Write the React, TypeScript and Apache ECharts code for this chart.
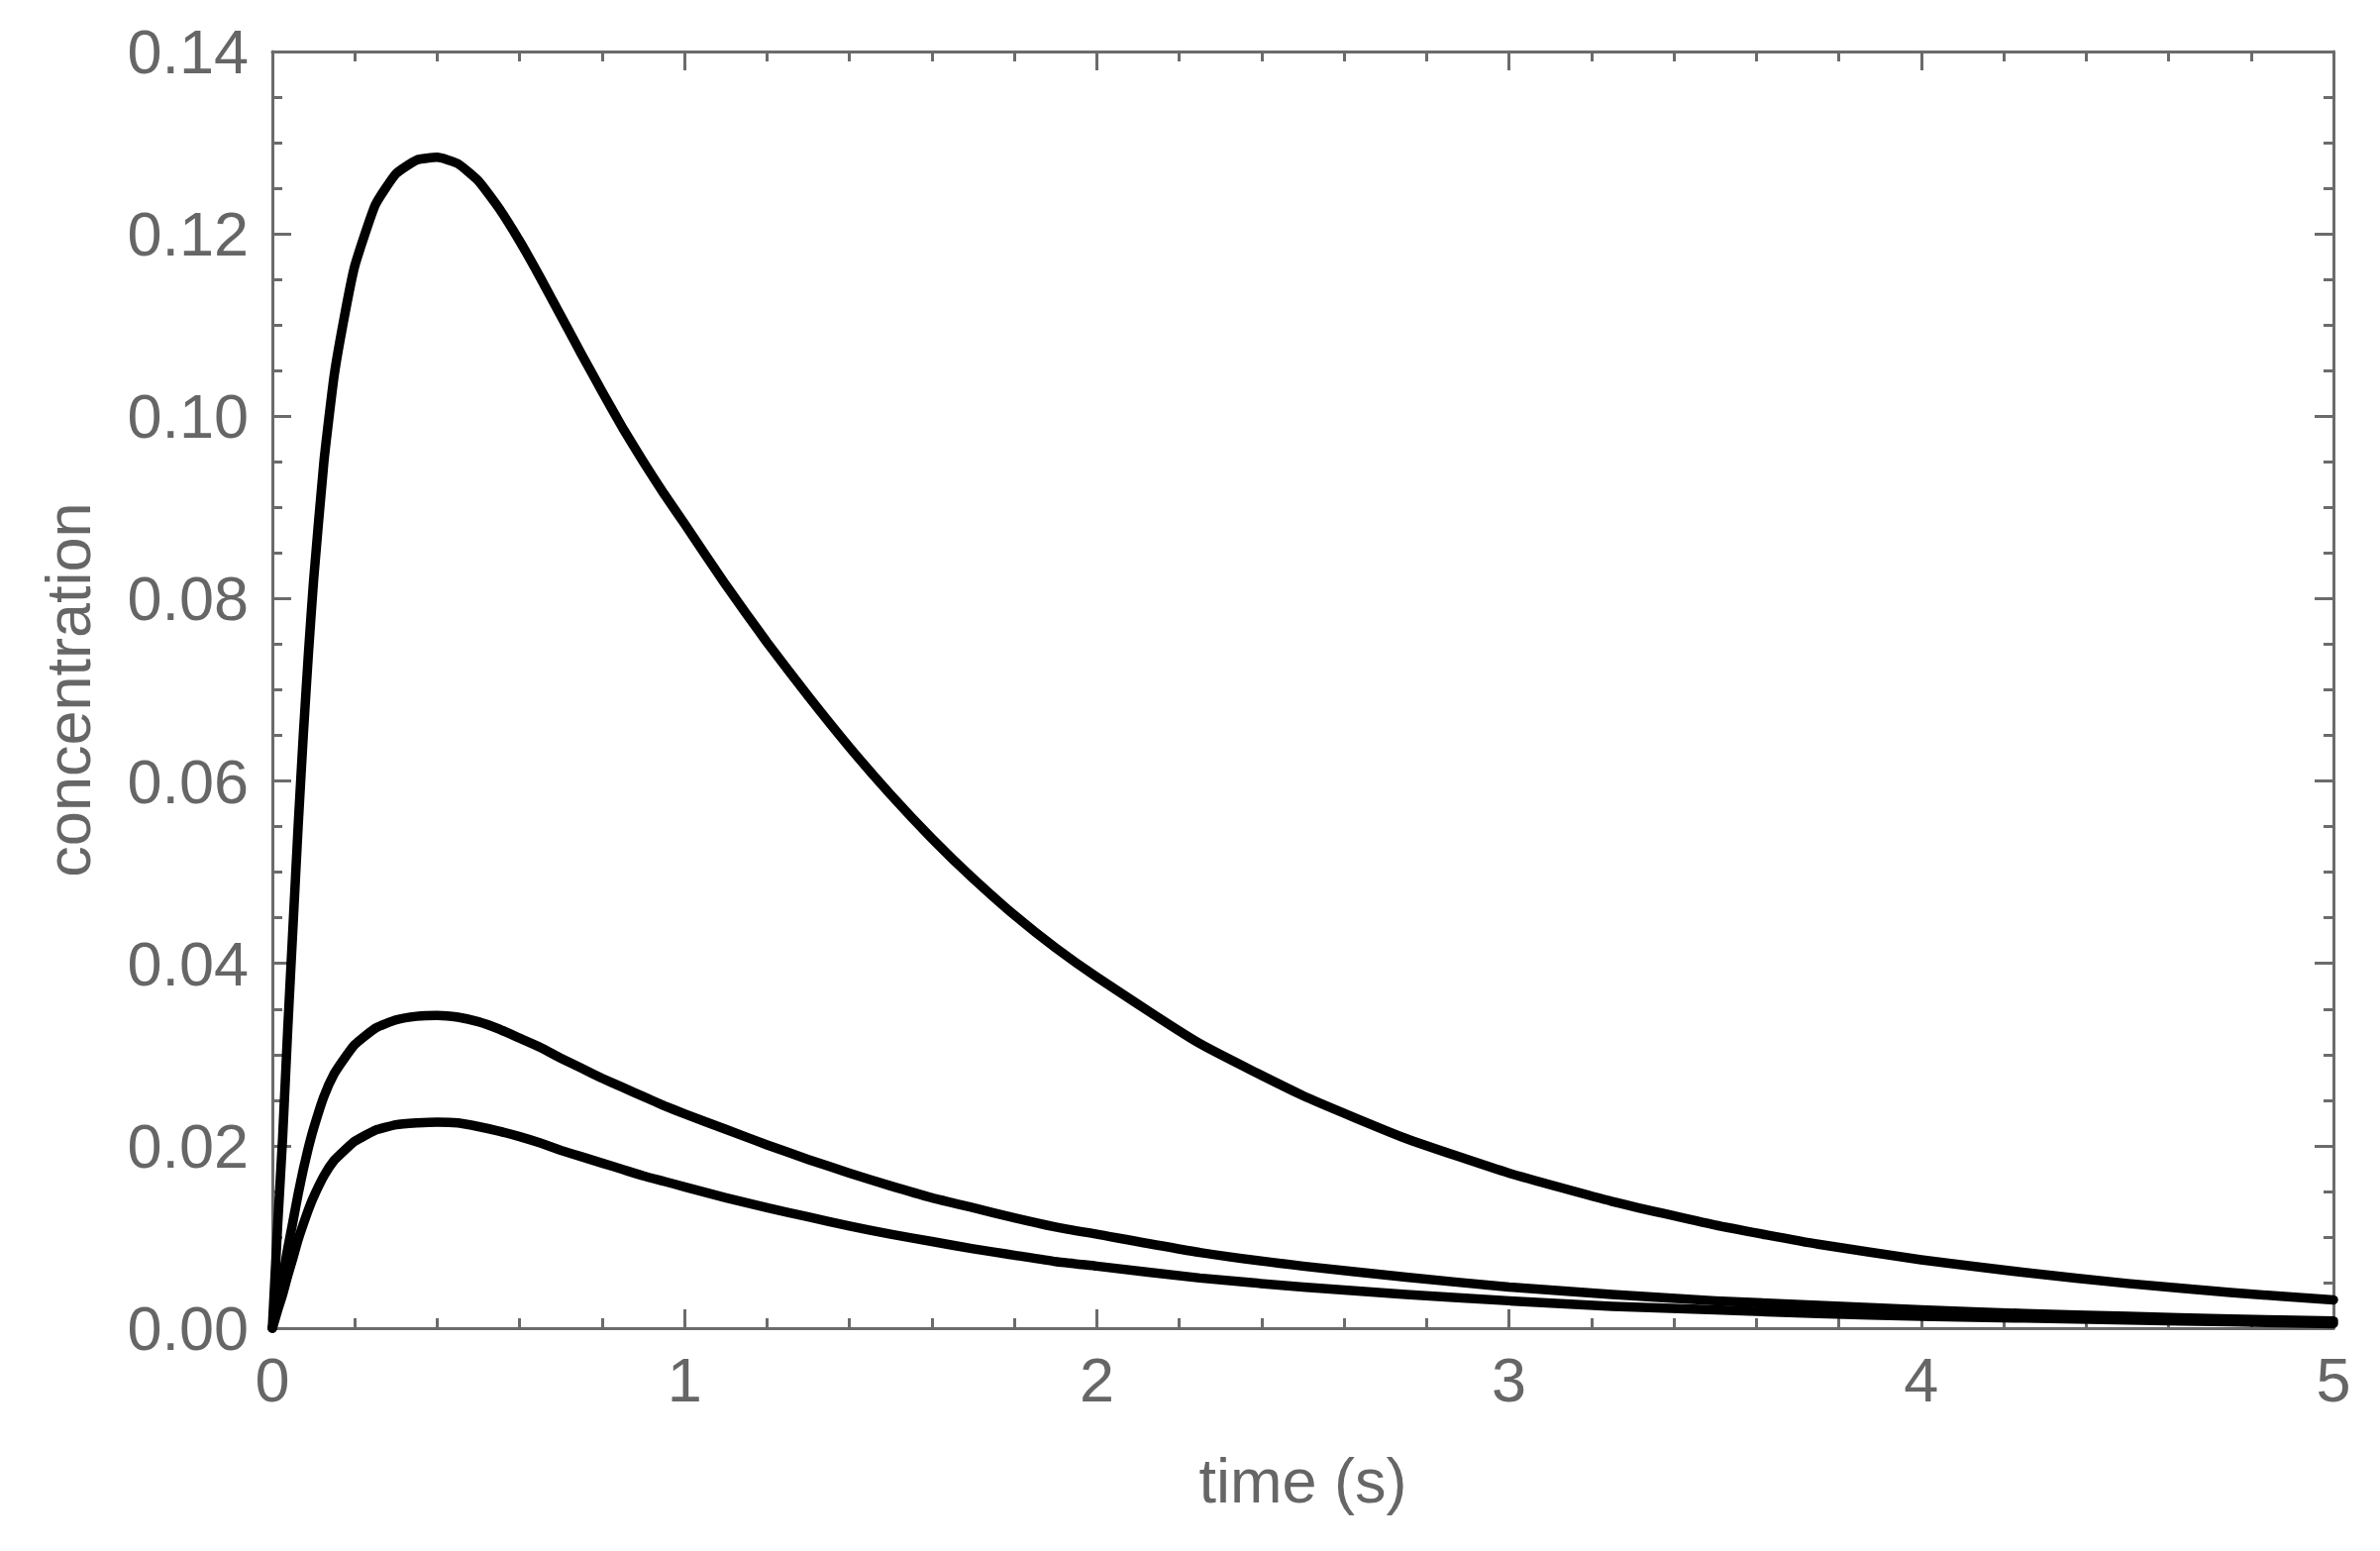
import React, { useEffect, useRef } from "react";
import * as echarts from "echarts";

const times = [0, 0.0125, 0.025, 0.0375, 0.05, 0.0625, 0.075, 0.0875, 0.1, 0.125, 0.15, 0.175, 0.2, 0.25, 0.3, 0.35, 0.4, 0.45, 0.5, 0.55, 0.6, 0.65, 0.7, 0.75, 0.8, 0.85, 0.9, 0.95, 1.0, 1.1, 1.2, 1.3, 1.4, 1.5, 1.6, 1.7, 1.8, 1.9, 2.0, 2.25, 2.5, 2.75, 3.0, 3.25, 3.5, 3.75, 4.0, 4.25, 4.5, 4.75, 5.0];

const upperCurve = [0, 0.011, 0.021, 0.033, 0.044, 0.055, 0.065, 0.074, 0.082, 0.095, 0.1045, 0.111, 0.1165, 0.1232, 0.1266, 0.1281, 0.1284, 0.1277, 0.1258, 0.1228, 0.1192, 0.1152, 0.111, 0.1068, 0.1027, 0.0987, 0.095, 0.0915, 0.0882, 0.0815, 0.0752, 0.0693, 0.0637, 0.0585, 0.0537, 0.0493, 0.0453, 0.0417, 0.0385, 0.0312, 0.0255, 0.0208, 0.017, 0.0139, 0.0113, 0.0092, 0.0075, 0.0061, 0.0049, 0.0039, 0.0031];

const middleCurve = [0, 0.0029, 0.0056, 0.0088, 0.0117, 0.0147, 0.0174, 0.0198, 0.0219, 0.0254, 0.0279, 0.0296, 0.0311, 0.0329, 0.0338, 0.0342, 0.0343, 0.0341, 0.0336, 0.0328, 0.0318, 0.0308, 0.0296, 0.0285, 0.0274, 0.0264, 0.0254, 0.0244, 0.0235, 0.0218, 0.0201, 0.0185, 0.017, 0.0156, 0.0143, 0.0132, 0.0121, 0.0111, 0.0103, 0.0083, 0.0068, 0.0056, 0.0045, 0.0037, 0.003, 0.0025, 0.002, 0.0016, 0.0013, 0.001, 0.0008];

const lowerCurve = [0, 0.0019, 0.0037, 0.0058, 0.0077, 0.0097, 0.0114, 0.013, 0.0144, 0.0167, 0.0184, 0.0195, 0.0205, 0.0217, 0.0223, 0.0225, 0.0226, 0.0225, 0.0221, 0.0216, 0.021, 0.0203, 0.0195, 0.0188, 0.0181, 0.0174, 0.0167, 0.0161, 0.0155, 0.0143, 0.0132, 0.0122, 0.0112, 0.0103, 0.0095, 0.0087, 0.008, 0.0073, 0.0068, 0.0055, 0.0045, 0.0037, 0.003, 0.0024, 0.002, 0.0016, 0.0013, 0.0011, 0.0009, 0.0007, 0.0005];

const xTitle = "time (s)";
const yTitle = "concentration";

const GRAY = "#666666";
const AXIS = "#6b6b6b";
const FONT = "Liberation Sans, Arial, sans-serif";
const FS = 63;

const pair = (ys: number[]) => times.map((t, i) => [t, ys[i]]);

export default function App() {
  const ref = useRef<HTMLDivElement>(null);
  useEffect(() => {
    if (!ref.current) return;
    const chart = echarts.init(ref.current, undefined, { renderer: "svg" });
    const tickCommon = {
      axisLine: { show: true, onZero: false, lineStyle: { color: AXIS, width: 3 } },
      axisTick: { show: true, inside: true, length: 19, lineStyle: { color: AXIS, width: 3 } },
      splitLine: { show: false },
    };
    const xBase = {
      type: "value" as const,
      min: 0,
      max: 5,
      interval: 1,
      ...tickCommon,
      minorTick: { show: true, splitNumber: 5, length: 10, lineStyle: { color: AXIS, width: 3 } },
      minorSplitLine: { show: false },
    };
    const yBase = {
      type: "value" as const,
      min: 0,
      max: 0.14,
      interval: 0.02,
      ...tickCommon,
      minorTick: { show: true, splitNumber: 4, length: 10, lineStyle: { color: AXIS, width: 3 } },
      minorSplitLine: { show: false },
    };
    const lineSeries = (data: number[]) => ({
      type: "line",
      data: pair(data),
      showSymbol: false,
      smooth: 0.15,
      lineStyle: { color: "#000000", width: 9.5, join: "round", cap: "round" },
      xAxisIndex: 0,
      yAxisIndex: 0,
    });
    chart.setOption({
      animation: false,
      backgroundColor: "#ffffff",
      grid: { left: 275, right: 47, top: 52, bottom: 225, containLabel: false },
      xAxis: [
        {
          ...xBase,
          position: "bottom",
          name: xTitle,
          nameLocation: "middle",
          nameGap: 122,
          nameTextStyle: { color: GRAY, fontSize: FS, fontFamily: FONT },
          axisLabel: {
            show: true,
            color: GRAY,
            fontSize: FS,
            fontFamily: FONT,
            margin: 20,
            formatter: (v: number) => String(v),
          },
        },
        {
          ...xBase,
          position: "top",
          axisLabel: { show: false },
        },
      ],
      yAxis: [
        {
          ...yBase,
          position: "left",
          name: yTitle,
          nameLocation: "middle",
          nameGap: 175,
          nameRotate: 90,
          nameTextStyle: { color: GRAY, fontSize: FS, fontFamily: FONT },
          axisLabel: {
            show: true,
            color: GRAY,
            fontSize: FS,
            fontFamily: FONT,
            margin: 24,
            formatter: (v: number) => v.toFixed(2),
          },
        },
        {
          ...yBase,
          position: "right",
          axisLabel: { show: false },
        },
      ],
      series: [lineSeries(upperCurve), lineSeries(middleCurve), lineSeries(lowerCurve)],
    });
    return () => chart.dispose();
  }, []);
  return (
    <div
      ref={ref}
      style={{ position: "absolute", left: 0, top: 0, width: 2403, height: 1566, background: "#fff" }}
    />
  );
}
